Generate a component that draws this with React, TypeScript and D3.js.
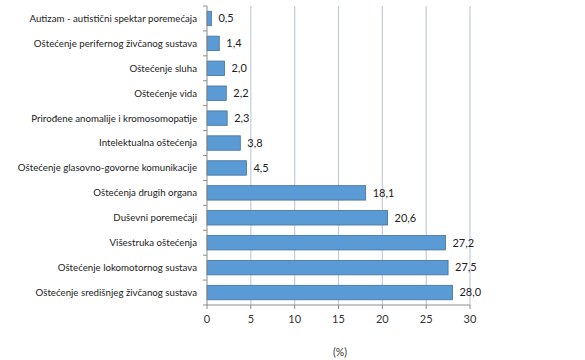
import React, { useRef, useEffect } from 'react';
import * as d3 from 'd3';

const categories = [
  'Autizam - autistični spektar poremećaja',
  'Oštećenje perifernog živčanog sustava',
  'Oštećenje sluha',
  'Oštećenje vida',
  'Prirođene anomalije i kromosomopatije',
  'Intelektualna oštećenja',
  'Oštećenje glasovno-govorne komunikacije',
  'Oštećenja drugih organa',
  'Duševni poremećaji',
  'Višestruka oštećenja',
  'Oštećenje lokomotornog sustava',
  'Oštećenje središnjeg živčanog sustava',
];
const values = [0.5, 1.4, 2.0, 2.2, 2.3, 3.8, 4.5, 18.1, 20.6, 27.2, 27.5, 28.0];
const xTicks = [0, 5, 10, 15, 20, 25, 30];
const axisTitle = '(%)';

const App = () => {
  const ref = useRef<SVGSVGElement>(null);

  useEffect(() => {
    if (!ref.current) return;
    const svg = d3.select(ref.current);
    svg.selectAll('*').remove();

    const width = 585;
    const height = 360;
    const left = 207;
    const right = 470;
    const top = 6;
    const bottom = 305;
    const font = 'Lato, "Open Sans", sans-serif';

    const x = d3.scaleLinear().domain([0, 30]).range([left, right]);
    const y = d3
      .scaleBand()
      .domain(categories)
      .range([top, bottom])
      .paddingInner(0.42)
      .paddingOuter(0.21);
    const step = y.step();

    // grid lines
    svg
      .append('g')
      .selectAll('line')
      .data(xTicks.filter((t) => t > 0))
      .enter()
      .append('line')
      .attr('x1', (d) => x(d))
      .attr('x2', (d) => x(d))
      .attr('y1', top)
      .attr('y2', bottom)
      .attr('stroke', '#c3cbdc')
      .attr('stroke-width', 1.2);

    // bars
    svg
      .append('g')
      .selectAll('rect')
      .data(values)
      .enter()
      .append('rect')
      .attr('x', x(0))
      .attr('y', (d, i) => y(categories[i]) as number)
      .attr('width', (d) => x(d) - x(0))
      .attr('height', y.bandwidth())
      .attr('fill', '#5b9bd5')
      .attr('stroke', '#41719c')
      .attr('stroke-width', 0.8);

    // left axis line + category separator ticks
    const axisColor = '#8c8c8c';
    svg
      .append('line')
      .attr('x1', left)
      .attr('x2', left)
      .attr('y1', top)
      .attr('y2', bottom)
      .attr('stroke', axisColor);
    svg
      .append('g')
      .selectAll('line')
      .data(d3.range(categories.length + 1))
      .enter()
      .append('line')
      .attr('x1', left - 4)
      .attr('x2', left)
      .attr('y1', (i) => top + i * step)
      .attr('y2', (i) => top + i * step)
      .attr('stroke', axisColor);

    // bottom axis
    svg
      .append('line')
      .attr('x1', left)
      .attr('x2', right)
      .attr('y1', bottom)
      .attr('y2', bottom)
      .attr('stroke', axisColor);
    svg
      .append('g')
      .selectAll('line')
      .data(xTicks)
      .enter()
      .append('line')
      .attr('x1', (d) => x(d))
      .attr('x2', (d) => x(d))
      .attr('y1', bottom)
      .attr('y2', bottom + 4)
      .attr('stroke', axisColor);
    svg
      .append('g')
      .selectAll('text')
      .data(xTicks)
      .enter()
      .append('text')
      .text((d) => d)
      .attr('x', (d) => x(d))
      .attr('y', 323)
      .attr('text-anchor', 'middle')
      .attr('font-size', '11px')
      .attr('fill', '#333')
      .style('font-family', font);

    // category labels
    svg
      .append('g')
      .selectAll('text')
      .data(categories)
      .enter()
      .append('text')
      .text((d) => d)
      .attr('x', left - 10)
      .attr('y', (d) => (y(d) as number) + y.bandwidth() / 2)
      .attr('dy', '0.35em')
      .attr('text-anchor', 'end')
      .attr('font-size', '9.7px')
      .attr('fill', '#222')
      .style('font-family', font);

    // value labels
    svg
      .append('g')
      .selectAll('text')
      .data(values)
      .enter()
      .append('text')
      .text((d) => d.toFixed(1).replace('.', ','))
      .attr('x', (d) => x(d) + 7)
      .attr('y', (d, i) => (y(categories[i]) as number) + y.bandwidth() / 2)
      .attr('dy', '0.35em')
      .attr('font-size', '11px')
      .attr('fill', '#222')
      .style('font-family', font);

    svg
      .append('text')
      .text(axisTitle)
      .attr('x', 340)
      .attr('y', 356)
      .attr('text-anchor', 'middle')
      .attr('font-size', '10.5px')
      .attr('fill', '#333')
      .style('font-family', font);

    svg.attr('width', width).attr('height', height);
  }, []);

  return (
    <svg
      ref={ref}
      width={585}
      height={360}
      style={{ position: 'absolute', left: 0, top: 0, background: '#fff' }}
    />
  );
};

export default App;
